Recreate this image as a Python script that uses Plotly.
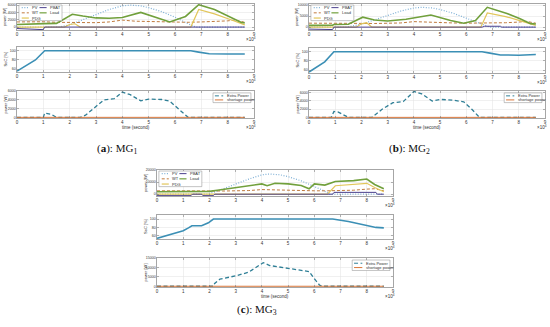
import plotly.graph_objects as go

# ---------------- data (time in units of 10^4 s) ----------------
time_ticks = [0, 1, 2, 3, 4, 5, 6, 7, 8, 9]
time_tick_labels = [str(v) for v in time_ticks]

# ---- (a) MG1 ----
a_pv_t = [0, 1.6, 2.0, 2.5, 3.0, 3.5, 4.0, 4.3, 4.7, 5.0, 5.5, 6.0, 6.5, 6.8, 8.65]
a_pv_p = [0, 0, 600, 2000, 3500, 4800, 5800, 6000, 5800, 5300, 4200, 2700, 900, 0, 0]
a_wt_t = [0, 0.5, 1.0, 1.5, 2.0, 2.5, 3.0, 3.5, 4.0, 4.5, 5.0, 5.5, 6.0, 6.5, 7.0, 7.5, 8.0, 8.3, 8.65]
a_wt_p = [1400, 1450, 1450, 1300, 1200, 1150, 1200, 1400, 1900, 1600, 1500, 1400, 1300, 1300, 1400, 1500, 1700, 1900, 1300]
a_pdg_t = [0, 1.8, 2.0, 2.2, 2.4, 6.6, 6.9, 7.5, 8.2, 8.65]
a_pdg_p = [0, 0, 700, 900, 0, 0, 4800, 3600, 1800, 600]
a_bat_t = [0, 1.0, 1.05, 6.6, 6.7, 7.3, 7.35, 8.65]
a_bat_p = [-400, -700, 0, 0, 200, 200, 0, 0]
a_load_t = [0, 1.0, 1.05, 1.5, 2.1, 2.5, 3.0, 3.5, 4.0, 4.7, 5.2, 5.8, 6.4, 6.9, 7.5, 8.2, 8.5, 8.65]
a_load_p = [700, 750, 950, 1000, 3500, 3000, 2500, 2400, 2600, 4000, 2800, 1400, 2900, 6100, 4800, 2400, 1300, 1100]
a_soc_t = [0, 0.7, 1.05, 6.6, 6.9, 7.3, 8.0, 8.65]
a_soc_v = [56, 80, 100, 100, 97, 93.5, 93, 93]
a_ext_t = [0, 1.0, 1.05, 1.3, 1.5, 2.4, 2.6, 3.0, 3.3, 3.7, 4.0, 4.3, 4.7, 5.0, 5.5, 5.8, 6.0, 6.3, 6.5, 8.65]
a_ext_p = [0, 0, 1000, 700, 0, 0, 500, 2600, 4000, 4300, 5800, 5200, 3800, 4200, 4100, 3700, 2700, 1000, 0, 0]
a_short_t = [0, 8.65]
a_short_p = [0, 0]
a_top_ticks = [0, 2000, 4000, 6000]
a_soc_ticks = [60, 80, 100]
a_ext_ticks = [0, 2000, 4000, 6000]

# ---- (b) MG2 ----
b_pv_t = [0, 1.4, 2.0, 2.5, 3.0, 3.5, 4.0, 4.3, 4.7, 5.0, 5.5, 6.0, 6.5, 6.9, 8.65]
b_pv_p = [0, 0, 1300, 3200, 5300, 7300, 8700, 9000, 8700, 8000, 6300, 4000, 1500, 0, 0]
b_wt_t = [0, 0.5, 1.0, 1.5, 2.0, 2.5, 3.0, 3.5, 4.0, 4.5, 5.0, 5.5, 6.0, 6.5, 7.0, 7.5, 8.0, 8.3, 8.65]
b_wt_p = [1800, 1850, 1900, 1800, 1700, 1650, 1700, 1900, 2500, 2200, 2000, 1900, 1800, 1800, 1900, 2000, 2300, 2600, 1800]
b_pdg_t = [0, 1.8, 2.0, 2.2, 2.4, 6.55, 6.8, 7.5, 8.1, 8.65]
b_pdg_p = [0, 0, 1500, 2000, 0, 0, 6400, 4800, 2700, 800]
b_bat_t = [0, 0.9, 0.95, 6.6, 6.7, 7.3, 7.35, 8.65]
b_bat_p = [-900, -1100, 0, 0, 400, 400, 0, 0]
b_load_t = [0, 0.9, 0.95, 1.5, 2.05, 2.5, 3.0, 3.7, 4.65, 5.4, 5.9, 6.35, 6.8, 7.55, 8.05, 8.45, 8.65]
b_load_p = [800, 850, 1200, 1300, 4500, 3200, 2800, 3600, 5500, 3000, 1800, 3000, 9000, 6200, 3800, 1600, 1400]
b_soc_t = [0, 0.6, 0.95, 6.6, 6.9, 7.3, 8.0, 8.65]
b_soc_v = [56, 78, 100, 100, 97, 93, 92.5, 94]
b_ext_t = [0, 0.85, 0.95, 1.1, 1.5, 2.4, 2.8, 3.2, 3.6, 4.0, 4.3, 4.7, 5.0, 5.5, 5.9, 6.2, 6.5, 8.65]
b_ext_p = [0, 0, 1400, 1300, 0, 0, 2000, 3500, 3800, 6200, 5600, 3900, 4300, 4100, 3700, 2000, 0, 0]
b_short_t = [0, 8.65]
b_short_p = [0, 0]
b_top_ticks = [0, 5000, 10000]
b_soc_ticks = [60, 80, 100]
b_ext_ticks = [0, 2000, 4000, 6000]

# ---- (c) MG3 ----
c_pv_t = [0, 1.9, 2.3, 2.7, 3.0, 3.5, 4.0, 4.3, 4.7, 5.0, 5.5, 6.0, 6.3, 6.6, 8.65]
c_pv_p = [0, 0, 2500, 6000, 8500, 12500, 16000, 16700, 16000, 14500, 11000, 6500, 3500, 0, 0]
c_wt_t = [0, 0.5, 1.0, 1.5, 2.0, 2.5, 3.0, 3.5, 4.0, 4.5, 5.0, 5.5, 6.0, 6.5, 7.0, 7.5, 8.0, 8.3, 8.65]
c_wt_p = [2800, 2900, 3000, 2900, 2700, 2600, 2700, 3000, 3800, 3400, 3200, 3000, 2800, 2800, 3000, 3300, 4200, 4500, 2800]
c_pdg_t = [0, 6.5, 6.8, 7.5, 8.0, 8.3, 8.65]
c_pdg_p = [0, 0, 7000, 8500, 9000, 5500, 2000]
c_bat_t = [0, 1.3, 1.35, 1.7, 1.75, 2.15, 2.2, 6.7, 6.75, 8.35, 8.4, 8.65]
c_bat_p = [-1200, -1200, 0, 0, -1200, -1200, 0, 0, 1500, 1500, 0, 0]
c_load_t = [0, 1.0, 2.0, 2.3, 3.0, 3.5, 4.0, 4.2, 4.5, 5.0, 5.5, 5.8, 6.0, 6.4, 6.8, 7.5, 8.0, 8.3, 8.65]
c_load_p = [2000, 2100, 2300, 3300, 5500, 7000, 8500, 7000, 9000, 8500, 7200, 4500, 8500, 7500, 10500, 11200, 12500, 8000, 4500]
c_soc_t = [0, 0.5, 1.0, 1.2, 1.33, 1.7, 1.96, 2.15, 6.7, 7.3, 8.0, 8.35, 8.65]
c_soc_v = [54, 63, 72, 79, 84, 84, 91, 100, 100, 94, 85, 80, 79]
c_ext_t = [0, 2.15, 2.2, 2.4, 3.0, 3.5, 4.05, 4.3, 5.0, 5.5, 5.8, 6.0, 6.2, 6.3, 8.65]
c_ext_p = [0, 0, 1500, 3800, 5500, 7500, 12500, 11000, 9500, 8200, 7800, 4000, 600, 0, 0]
c_short_t = [0, 8.65]
c_short_p = [0, 0]
c_top_ticks = [0, 10000, 20000]
c_soc_ticks = [60, 80, 100]
c_ext_ticks = [0, 5000, 10000, 15000]

top_names = ["PV", "WT", "PDG", "PBAT", "Load"]
bottom_names = ["Extra Power", "shortage power"]
captions = ["(<b>a</b>): MG<sub>1</sub>", "(<b>b</b>): MG<sub>2</sub>", "(<b>c</b>): MG<sub>3</sub>"]

# ---------------- styling / layout ----------------
W, H = 550, 327
FONT = "Liberation Sans"
SMALL = 4.5
YTICK = 3.6
top_styles = [
    dict(color="#7fb0d6", width=1.2, dash="1px,1.6px"),   # PV
    dict(color="#c07a3e", width=1.0, dash="3px,2px"),     # WT
    dict(color="#e2c65a", width=1.2, dash="solid"),       # PDG
    dict(color="#4b3f8c", width=1.0, dash="solid"),       # PBAT
    dict(color="#71a03c", width=1.6, dash="solid"),       # Load
]
soc_style = dict(color="#3b8fb5", width=1.6)
ext_style = dict(color="#2f7f96", width=1.3, dash="4px,2.5px")
short_style = dict(color="#d9773a", width=1.0)

panels = [
    dict(xpx=(17, 254), rows=[(4, 30), (47, 72), (91, 118)], cap=(117, 149),
         top=[(a_pv_t, a_pv_p), (a_wt_t, a_wt_p), (a_pdg_t, a_pdg_p), (a_bat_t, a_bat_p), (a_load_t, a_load_p)],
         soc=(a_soc_t, a_soc_v), ext=(a_ext_t, a_ext_p), short=(a_short_t, a_short_p),
         ranges=([-800, 6300], [54, 108], [-150, 6050]),
         ticks=(a_top_ticks, a_soc_ticks, a_ext_ticks)),
    dict(xpx=(309, 545), rows=[(4, 30), (48, 73), (91, 118)], cap=(409, 149),
         top=[(b_pv_t, b_pv_p), (b_wt_t, b_wt_p), (b_pdg_t, b_pdg_p), (b_bat_t, b_bat_p), (b_load_t, b_load_p)],
         soc=(b_soc_t, b_soc_v), ext=(b_ext_t, b_ext_p), short=(b_short_t, b_short_p),
         ranges=([-1300, 10500], [54, 108], [-150, 6300]),
         ticks=(b_top_ticks, b_soc_ticks, b_ext_ticks)),
    dict(xpx=(157, 393), rows=[(170, 196), (215, 239), (258, 287)], cap=(257, 310),
         top=[(c_pv_t, c_pv_p), (c_wt_t, c_wt_p), (c_pdg_t, c_pdg_p), (c_bat_t, c_bat_p), (c_load_t, c_load_p)],
         soc=(c_soc_t, c_soc_v), ext=(c_ext_t, c_ext_p), short=(c_short_t, c_short_p),
         ranges=([-1500, 20000], [52.5, 109.5], [-400, 15000]),
         ticks=(c_top_ticks, c_soc_ticks, c_ext_ticks)),
]

fig = go.Figure()
layout = {}
shapes = []
annotations = []

axis_common = dict(showline=True, mirror="ticks", linecolor="#6b6b6b", linewidth=0.6,
                   showgrid=True, gridcolor="#e2e2e2", gridwidth=0.5, zeroline=False,
                   ticks="inside", ticklen=2, tickcolor="#6b6b6b", tickwidth=0.5,
                   tickfont=dict(size=SMALL, color="#333333", family=FONT), automargin=False)

def sfx(k):
    return "" if k == 1 else str(k)

k = 0
for pi, P in enumerate(panels):
    xl, xr = P["xpx"]
    for ri, (ty, by) in enumerate(P["rows"]):
        k += 1
        s = sfx(k)
        layout["xaxis" + s] = dict(axis_common, domain=[xl / W, xr / W], range=[0, 9],
                                   tickvals=time_ticks, ticktext=time_tick_labels, anchor="y" + s)
        layout["yaxis" + s] = dict(axis_common, domain=[1 - by / H, 1 - ty / H],
                                   range=list(P["ranges"][ri]), tickvals=P["ticks"][ri],
                                   ticktext=[str(v) for v in P["ticks"][ri]], anchor="x" + s,
                                   tickfont=dict(size=YTICK, color="#333333", family=FONT))
        xa, ya = "x" + s, "y" + s
        if ri == 0:
            for (tt, pp), nm, st in zip(P["top"], top_names, top_styles):
                fig.add_trace(go.Scatter(x=tt, y=pp, mode="lines", name=nm, showlegend=False,
                                         line=st, xaxis=xa, yaxis=ya))
            ytitle = "power [W]"
            # manual 2-column legend
            shapes.append(dict(type="rect", xref=xa + " domain", yref=ya + " domain",
                               x0=0.008, x1=0.19, y0=0.36, y1=0.96,
                               line=dict(color="#888", width=0.5), fillcolor="white"))
            pos = [(0, 0.86), (0, 0.66), (0, 0.46), (1, 0.86), (1, 0.66)]
            for (col, yy), nm, st in zip(pos, top_names, top_styles):
                x0 = 0.02 if col == 0 else 0.095
                shapes.append(dict(type="line", xref=xa + " domain", yref=ya + " domain",
                                   x0=x0, x1=x0 + 0.03, y0=yy, y1=yy,
                                   line=dict(color=st["color"], width=min(st["width"], 1.2), dash=st["dash"])))
                annotations.append(dict(xref=xa + " domain", yref=ya + " domain", x=x0 + 0.036, y=yy,
                                        text=nm, showarrow=False, xanchor="left", yanchor="middle",
                                        font=dict(size=4, color="#333", family=FONT)))
        elif ri == 1:
            fig.add_trace(go.Scatter(x=P["soc"][0], y=P["soc"][1], mode="lines", name="SoC",
                                     showlegend=False, line=soc_style, xaxis=xa, yaxis=ya))
            ytitle = "SoC [%]"
        else:
            fig.add_trace(go.Scatter(x=P["ext"][0], y=P["ext"][1], mode="lines", name=bottom_names[0],
                                     showlegend=False, line=ext_style, xaxis=xa, yaxis=ya))
            fig.add_trace(go.Scatter(x=P["short"][0], y=P["short"][1], mode="lines", name=bottom_names[1],
                                     showlegend=False, line=short_style, xaxis=xa, yaxis=ya))
            ytitle = "power [W]"
            shapes.append(dict(type="rect", xref=xa + " domain", yref=ya + " domain",
                               x0=0.827, x1=0.987, y0=0.57, y1=0.93,
                               line=dict(color="#888", width=0.5), fillcolor="white"))
            for yy, nm, st in zip([0.82, 0.67], bottom_names, [ext_style, short_style]):
                shapes.append(dict(type="line", xref=xa + " domain", yref=ya + " domain",
                                   x0=0.835, x1=0.87, y0=yy, y1=yy,
                                   line=dict(color=st["color"], width=1, dash=st.get("dash", "solid"))))
                annotations.append(dict(xref=xa + " domain", yref=ya + " domain", x=0.877, y=yy,
                                        text=nm, showarrow=False, xanchor="left", yanchor="middle",
                                        font=dict(size=4, color="#333", family=FONT)))
            annotations.append(dict(xref="paper", yref="paper", x=(xl + xr) / 2 / W, y=1 - (by + 9) / H,
                                    text="time (second)", showarrow=False, xanchor="center", yanchor="middle",
                                    font=dict(size=SMALL, color="#333", family=FONT)))
        # y title
        annotations.append(dict(xref="paper", yref="paper", x=(xl - 12) / W, y=1 - (ty + by) / 2 / H,
                                text=ytitle, textangle=-90, showarrow=False, xanchor="center", yanchor="middle",
                                font=dict(size=4, color="#333", family=FONT)))
        # x10^4 multiplier
        annotations.append(dict(xref="paper", yref="paper", x=(xr - 3) / W, y=1 - (by + 9) / H,
                                text="×10<sup>4</sup>", showarrow=False, xanchor="center", yanchor="middle",
                                font=dict(size=SMALL, color="#333", family=FONT)))
    annotations.append(dict(xref="paper", yref="paper", x=P["cap"][0] / W, y=1 - P["cap"][1] / H,
                            text=captions[pi], showarrow=False, xanchor="center", yanchor="middle",
                            font=dict(size=11, color="#111", family="Liberation Serif")))

fig.update_layout(**layout)
fig.update_layout(width=W, height=H, margin=dict(l=0, r=0, t=0, b=0),
                  paper_bgcolor="white", plot_bgcolor="white", showlegend=False,
                  shapes=shapes, annotations=annotations)
fig.write_html("out.html", config={"displayModeBar": False, "staticPlot": True},
               post_script="document.body.style.margin='0px';document.body.style.overflow='hidden';")
